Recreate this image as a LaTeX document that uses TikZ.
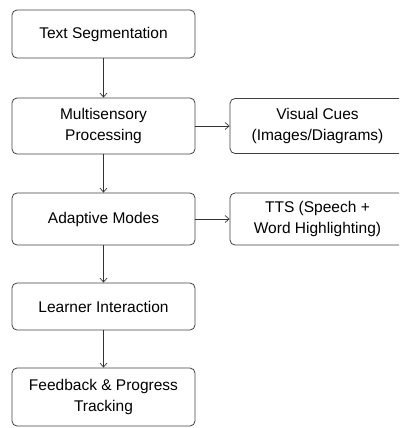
\documentclass[tikz,border=0pt]{standalone}
\usepackage{fontspec}
\setmainfont{Liberation Sans}
\usetikzlibrary{arrows.meta}
\tikzstyle{stage}=[rectangle,rounded corners=5pt,draw=black!75,line width=0.8pt,minimum width=183pt,align=center,font=\fontsize{15.5}{21}\selectfont]
\tikzstyle{aid}=[stage,minimum width=175pt]
\tikzstyle{flow}=[->,draw=black!80,line width=0.7pt]

\begin{document}
\begin{tikzpicture}[auto, x=1pt, y=1pt, inner sep=3pt, >={Straight Barb[length=4pt,width=7pt]}]
      \useasboundingbox (0,0) rectangle (399,-428);
      \clip (0,0) rectangle (399,-428);
      \node [stage, minimum height=48pt] (segment) at (103.5,-34) {Text Segmentation};
      \node [stage, minimum height=56pt] (multi) [below of=segment, node distance=92pt] {Multisensory\\Processing};
      \node [stage, minimum height=52pt] (adaptive) [below of=multi, node distance=93pt] {Adaptive Modes};
      \node [stage, minimum height=47pt] (learner) [below of=adaptive, node distance=87.5pt] {Learner Interaction};
      \node [stage, minimum height=58pt] (feedback) [below of=learner, node distance=90.5pt] {Feedback \& Progress\\Tracking};
      \draw [flow] (segment) -- (multi);
      \draw [flow] (multi) -- (adaptive);
      \draw [flow] (adaptive) -- (learner);
      \draw [flow] (learner) -- (feedback);

      \node [aid, minimum height=55pt] (visual) [right of=multi, node distance=214pt] {Visual Cues\\(Images/Diagrams)};
      \node [aid, minimum height=52pt] (tts) [right of=adaptive, node distance=214pt] {TTS (Speech +\\Word Highlighting)};
      \draw [flow] (multi.east) -- (visual.west);
      \draw [flow] (adaptive.east) -- (tts.west);
    \end{tikzpicture}
\end{document}
